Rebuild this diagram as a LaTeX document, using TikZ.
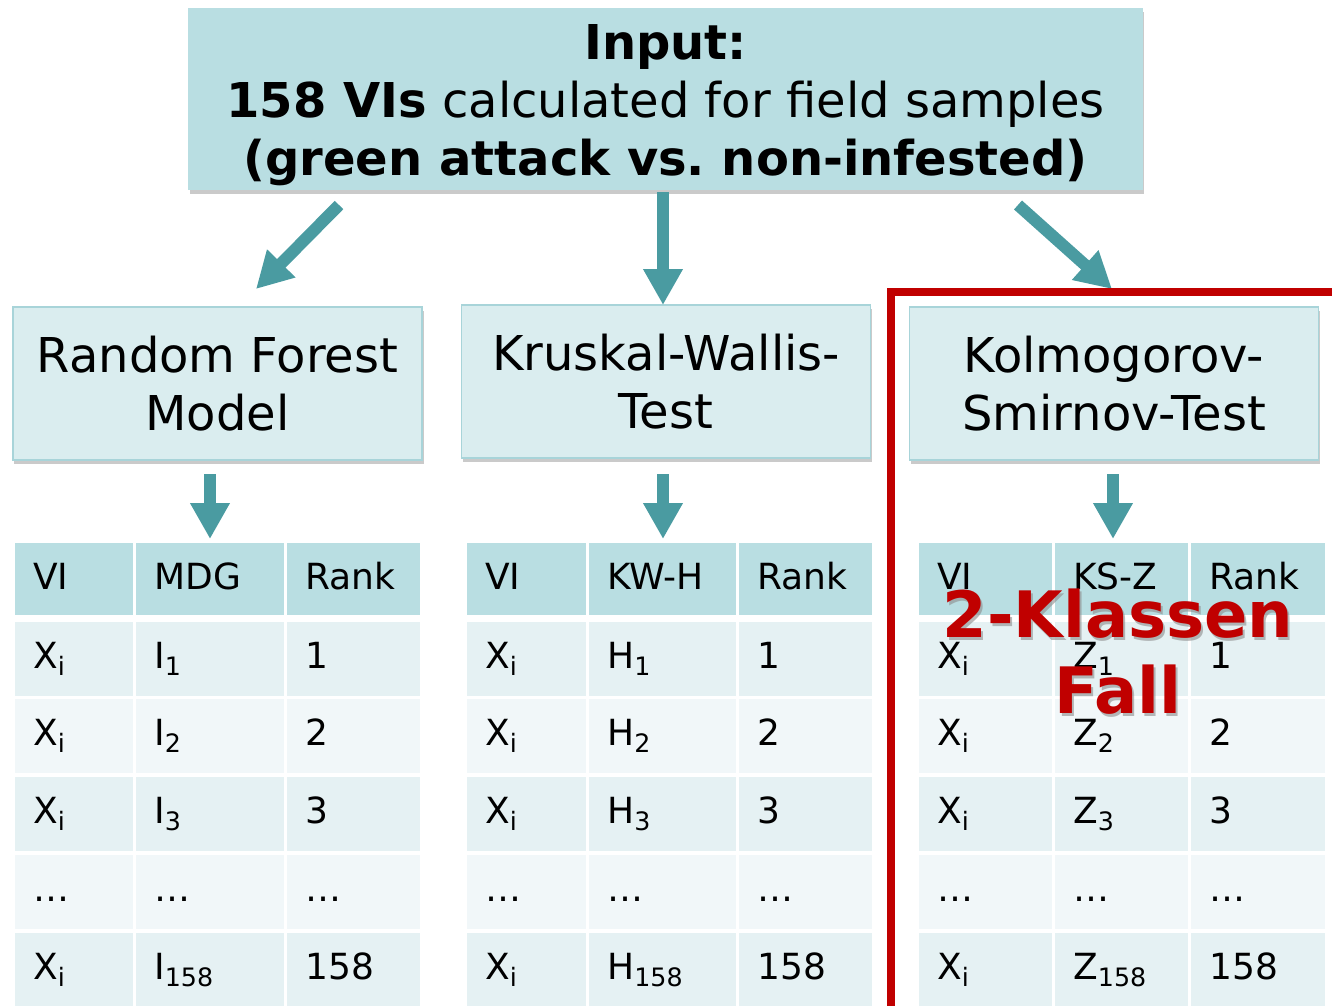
\documentclass[tikz,border=0pt]{standalone}
\usepackage{fontspec}
\setmainfont{DejaVu Sans}
\usetikzlibrary{arrows.meta,shadows}
\definecolor{hdr}{HTML}{B9DEE2}
\definecolor{boxf}{HTML}{DAEDEF}
\definecolor{boxb}{HTML}{A8D4D9}
\definecolor{rowa}{HTML}{E5F1F3}
\definecolor{rowb}{HTML}{F1F7F9}
\definecolor{arr}{HTML}{4A9BA1}
\definecolor{kred}{HTML}{C00000}
\newcommand\sbs[1]{\raisebox{-0.2em}{\fontsize{19}{19}\selectfont #1}}
\frenchspacing
\begin{document}
\begin{tikzpicture}[x=0.75pt,y=-0.75pt,
  topbox/.style={fill=hdr, inner sep=0, minimum width=716pt, minimum height=136.5pt,
    drop shadow={shadow xshift=1pt, shadow yshift=-3pt, opacity=0.35, fill=black!60}},
  toptxt/.style={inner sep=0, align=center, font=\fontsize{36}{43.5}\selectfont},
  testbox/.style={fill=boxf, draw=boxb, line width=1.2pt, inner sep=0, minimum width=307pt, minimum height=114.75pt,
    align=center, font=\fontsize{36}{43}\selectfont, drop shadow={shadow xshift=1pt, shadow yshift=-3pt, opacity=0.35, fill=black!60}},
  bigarrow/.style={draw=arr, line width=9pt, -{Triangle[width=28pt,length=27pt]}},
  txt/.style={anchor=base west, inner sep=0, font=\fontsize{27}{32}\selectfont},
  redtxt/.style={anchor=base, inner sep=0, text=kred, font=\fontsize{48}{56}\bfseries\selectfont},
  shtxt/.style={anchor=base, inner sep=0, text=black!45, opacity=0.6, font=\fontsize{48}{56}\bfseries\selectfont}]
\useasboundingbox (0,0) rectangle (1332,1006);
\clip (0,0) rectangle (1332,1006);

% top box
\node[topbox] (in) at (665.5,99) {};
\node[toptxt] (intxt) at (665.5,105) {\textbf{Input:}\\\textbf{158 VIs} calculated for field samples\\\textbf{(green attack vs. non-infested)}};

% method boxes
\node[testbox] (rf) at (217.5,383.5) {Random Forest\\Model};
\node[testbox] (kw) at (666,381.5) {Kruskal-Wallis-\\Test};
\node[testbox] (ks) at (1114,383.5) {Kolmogorov-\\Smirnov-Test};

% arrows from input
\coordinate (a1s) at (339,205); \coordinate (a1e) at (256,289);
\coordinate (a2s) at (663,192); \coordinate (a2e) at (663,305);
\coordinate (a3s) at (1018,205); \coordinate (a3e) at (1112,289);
\draw[bigarrow] (a1s) -- (a1e);
\draw[bigarrow] (a2s) -- (a2e);
\draw[bigarrow] (a3s) -- (a3e);

% arrows to tables
\coordinate (b1s) at (210,474); \coordinate (b1e) at (210,539);
\coordinate (b2s) at (663,474); \coordinate (b2e) at (663,539);
\coordinate (b3s) at (1113,474); \coordinate (b3e) at (1113,539);
\draw[bigarrow] (b1s) -- (b1e);
\draw[bigarrow] (b2s) -- (b2e);
\draw[bigarrow] (b3s) -- (b3e);

% tables
\foreach \p/\xa/\xb/\xc/\xd/\xe/\xf/\h/\s in {A/15/133/136/284/287/420/MDG/I, B/467/586/589/736/739/872/KW-H/H, C/919/1052/1055/1188/1191/1325/KS-Z/Z} {
  \fill[hdr] (\xa,543) rectangle (\xb,615);
  \fill[hdr] (\xc,543) rectangle (\xd,615);
  \fill[hdr] (\xe,543) rectangle (\xf,615);
  \node[txt] (\p h1) at (\xa+18,589) {VI};
  \node[txt] (\p h2) at (\xc+18,589) {\h};
  \node[txt] (\p h3) at (\xe+18,589) {Rank};
  \foreach \r/\yt/\c/\sub in {1/622/rowa/1, 2/699/rowb/2, 3/777/rowa/3, 5/933/rowa/158} {
    \fill[\c] (\xa,\yt) rectangle (\xb,\yt+74);
    \fill[\c] (\xc,\yt) rectangle (\xd,\yt+74);
    \fill[\c] (\xe,\yt) rectangle (\xf,\yt+74);
    \node[txt] (\p r\r c1) at (\xa+18,\yt+46) {X\sbs{i}};
    \node[txt] (\p r\r c2) at (\xc+18,\yt+46) {\s\sbs{\sub}};
    \node[txt] (\p r\r c3) at (\xe+18,\yt+46) {\sub};
  }
  \fill[rowb] (\xa,855) rectangle (\xb,929);
  \fill[rowb] (\xc,855) rectangle (\xd,929);
  \fill[rowb] (\xe,855) rectangle (\xf,929);
  \node[txt] (\p r4c1) at (\xa+18,901) {…};
  \node[txt] (\p r4c2) at (\xc+18,901) {…};
  \node[txt] (\p r4c3) at (\xe+18,901) {…};
}

% red frame
\draw[kred, line width=6pt] (891,292) rectangle (1345,1010);

% red label with shadow
\node[shtxt] (k1s) at (1120,640) {2-Klassen};
\node[shtxt] (k2s) at (1120,716) {Fall};
\node[redtxt] (k1) at (1118,637) {2-Klassen};
\node[redtxt] (k2) at (1118,713) {Fall};
\end{tikzpicture}
\end{document}
